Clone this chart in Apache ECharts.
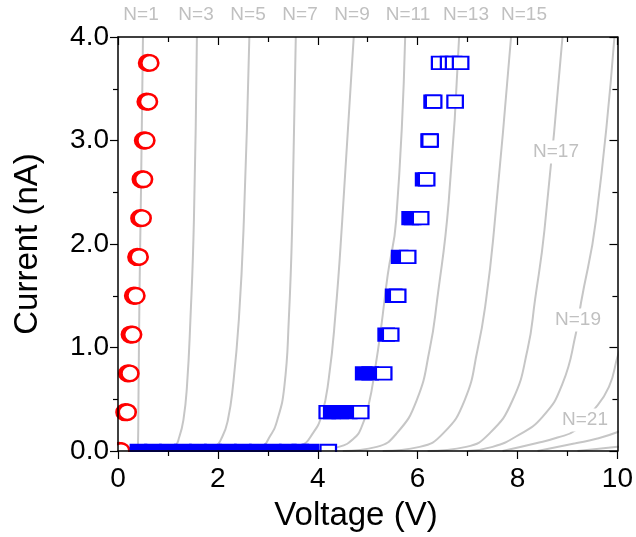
<!DOCTYPE html>
<html><head><meta charset="utf-8">
<script src="https://cdn.jsdelivr.net/npm/echarts@6/dist/echarts.min.js"></script>
<style>html,body{margin:0;padding:0;background:#fff}#c{width:636px;height:537px}</style>
</head><body><div id="c"></div>
<script>
// ---- data (Voltage V, Current nA) ----
const xTickLabels = ['0', '2', '4', '6', '8', '10'];
const yTickLabels = ['0.0', '1.0', '2.0', '3.0', '4.0'];

const curveN1  = [[0.38,0],[0.40,0.05],[0.41,0.5],[0.43,1.5],[0.46,2.5],[0.50,4.0]];
const curveN3  = [[0.9,0],[1.12,0.03],[1.23,0.14],[1.31,0.3],[1.38,0.62],[1.45,1.27],[1.52,2.23],[1.58,4.0]];
const curveN5  = [[1.6,0],[1.93,0.04],[2.09,0.14],[2.2,0.3],[2.3,0.62],[2.42,1.27],[2.52,2.23],[2.63,4.0]];
const curveN7  = [[2.3,0],[2.86,0.04],[3.04,0.14],[3.19,0.3],[3.33,0.62],[3.42,1.27],[3.49,2.23],[3.56,4.0]];
const curveN9  = [[3.1,0],[3.65,0.05],[3.9,0.17],[4.08,0.35],[4.22,0.7],[4.35,1.3],[4.49,2.23],[4.72,4.0]];
const curveN11 = [[3.8,0],[4.42,0.04],[4.72,0.12],[4.88,0.235],[5.02,0.45],[5.15,0.8],[5.27,1.2],[5.4,1.7],[5.57,2.23],[5.75,4.0]];
const curveN13 = [[4.5,0],[5.18,0.04],[5.58,0.17],[5.98,0.49],[6.24,0.98],[6.39,1.46],[6.62,2.4],[6.83,4.0]];
const curveN15 = [[5.3,0],[6.04,0.04],[6.51,0.17],[6.94,0.49],[7.2,0.98],[7.37,1.46],[7.53,2.14],[7.87,4.0]];
const curveN17 = [[6.2,0],[6.97,0.04],[7.44,0.17],[7.9,0.49],[8.2,0.98],[8.35,1.46],[8.54,2.14],[8.9,4.0]];
const curveN19 = [[7.0,0],[7.5,0.04],[7.97,0.14],[8.5,0.33],[8.9,0.65],[9.17,1.14],[9.27,1.43],[9.57,2.23],[9.94,4.0]];
const curveN21 = [[7.7,0],[8.37,0.074],[8.8,0.13],[9.16,0.2],[9.5,0.38],[9.83,0.62],[10.02,0.94],[10.3,1.3]];
const curveN23 = [[8.4,0],[9.16,0.074],[9.6,0.12],[10.02,0.186],[10.3,0.25]];
const curveN25 = [[9.2,0],[10.0,0.04],[10.3,0.06]];
const curves = [curveN1,curveN3,curveN5,curveN7,curveN9,curveN11,curveN13,curveN15,curveN17,curveN19,curveN21,curveN23,curveN25];

const redCircles = [[0.06,0],[0.185,0.375],[0.239,0.75],[0.293,1.125],[0.359,1.5],[0.424,1.875],[0.484,2.25],[0.512,2.625],[0.558,3.0],[0.61,3.375],[0.637,3.75]];

const blueFilled = [[0.41,0],[0.7,0],[1.0,0],[1.3,0],[1.6,0],[1.9,0],[2.2,0],[2.5,0],[2.8,0],[3.1,0],[3.4,0],[3.65,0],[3.85,0],
  [4.28,0.375],[4.45,0.375],[4.62,0.375],
  [4.92,0.75],[5.05,0.75],
  [5.37,1.125],[5.52,1.5],[5.64,1.875],[5.85,2.25],[5.9,2.25],[6.12,2.625],[6.23,3.0],[6.29,3.375]];
const blueOpenBehind = [[4.19,0.375]];
const blueOpen = [[4.21,0],[4.86,0.375],[5.32,0.75],[5.46,1.125],[5.6,1.5],[5.8,1.875],[6.06,2.25],[6.18,2.625],[6.25,3.0],[6.32,3.375],[6.75,3.375],
  [6.44,3.75],[6.62,3.75],[6.72,3.75],[6.86,3.75]];

const topLabels = ['N=1','N=3','N=5','N=7','N=9','N=11','N=13','N=15'];
const sideLabels = ['N=17','N=19','N=21'];

// ---- chart ----
const chart = echarts.init(document.getElementById('c'), null, {renderer:'canvas'});
const FONT = 'Liberation Sans, Arial, sans-serif';
const GRAY = '#c6c6c6';
const LBLGRAY = '#c0c0c0';
const BLUE = '#0000ff';
const RED = '#ff0000';

const series = [];
curves.forEach((c, i) => {
  series.push({type:'line', data:c, showSymbol:false, symbol:'none', smooth:0.5,
    lineStyle:{color:GRAY, width:2}, silent:true, z:1, clip:true, animation:false});
});
const sq = [15.5, 12.5];
series.push({type:'scatter', data:blueOpenBehind, symbol:'rect', symbolSize:sq, z:3,
  itemStyle:{color:'#fff', borderColor:BLUE, borderWidth:2, opacity:1}, animation:false});
series.push({type:'scatter', data:redCircles, symbol:'circle', symbolSize:[17,15.5], symbolOffset:[-2,0], z:2,
  itemStyle:{color:'#fff', borderColor:RED, borderWidth:3, opacity:1}, animation:false});
series.push({type:'scatter', data:redCircles, symbol:'circle', symbolSize:[17,15.5], z:2,
  itemStyle:{color:'#fff', borderColor:RED, borderWidth:2.5, opacity:1}, animation:false});
series.push({type:'scatter', data:blueFilled, symbol:'rect', symbolSize:sq, z:4,
  itemStyle:{color:BLUE, borderColor:BLUE, borderWidth:2, opacity:1}, animation:false});
series.push({type:'scatter', data:blueOpen, symbol:'rect', symbolSize:sq, z:5,
  itemStyle:{color:'#fff', borderColor:BLUE, borderWidth:2, opacity:1}, animation:false});

const axisCommon = {min:0, splitLine:{show:false},
  axisLine:{show:true, onZero:false, lineStyle:{color:'#000', width:1.5}},
  axisTick:{show:true, length:8, lineStyle:{color:'#000', width:1.2}},
  minorTick:{show:true, splitNumber:2, length:5, lineStyle:{color:'#000', width:1.2}}, z:10};

const graphics = [];
const topX = [141,196,248,300,352,408,466,524];
topLabels.forEach((t,i)=>graphics.push({type:'text', x:topX[i], y:15, z:20,
  style:{text:t, fill:LBLGRAY, font:'19px '+FONT, textAlign:'center', textVerticalAlign:'middle'}}));
const sidePos = [[556,152],[578,320],[585,420]];
sideLabels.forEach((t,i)=>graphics.push({type:'text', x:sidePos[i][0], y:sidePos[i][1], z:20,
  style:{text:t, fill:LBLGRAY, font:'19px '+FONT, textAlign:'center', textVerticalAlign:'middle',
    backgroundColor:'#fff', padding:[2,3]}}));
// mask outside plot area (symbols clipped at the axes)
graphics.push({type:'rect', shape:{x:60, y:452, width:576, height:14}, style:{fill:'#fff'}, z:8});
graphics.push({type:'rect', shape:{x:100, y:420, width:17, height:40}, style:{fill:'#fff'}, z:8});
graphics.push({type:'text', x:28, y:244, rotation:Math.PI/2, z:20,
  style:{text:'Current (nA)', fill:'#000', font:'33px '+FONT, textAlign:'center', textVerticalAlign:'middle'}});
graphics.push({type:'text', x:356, y:516, z:20,
  style:{text:'Voltage (V)', fill:'#000', font:'33px '+FONT, textAlign:'center', textVerticalAlign:'middle'}});

chart.setOption({
  animation:false,
  backgroundColor:'#fff',
  grid:{left:118, right:16, top:37, bottom:86, containLabel:false},
  xAxis:[
    Object.assign({}, axisCommon, {type:'value', max:10, interval:2, position:'bottom',
      axisLabel:{show:true, fontSize:28, fontFamily:FONT, color:'#000', margin:14,
        formatter:(v)=>xTickLabels[Math.round(v/2)]}}),
    Object.assign({}, axisCommon, {type:'value', max:10, interval:2, position:'top',
      axisTick:Object.assign({}, axisCommon.axisTick, {inside:true}), axisLabel:{show:false}})
  ],
  yAxis:[
    Object.assign({}, axisCommon, {type:'value', max:4, interval:1, position:'left',
      axisLabel:{show:true, fontSize:28, fontFamily:FONT, color:'#000', margin:9,
        formatter:(v)=>yTickLabels[Math.round(v)]}}),
    Object.assign({}, axisCommon, {type:'value', max:4, interval:1, position:'right',
      axisTick:Object.assign({}, axisCommon.axisTick, {inside:true}), axisLabel:{show:false}})
  ],
  series: series,
  graphic: graphics
});
</script></body></html>
